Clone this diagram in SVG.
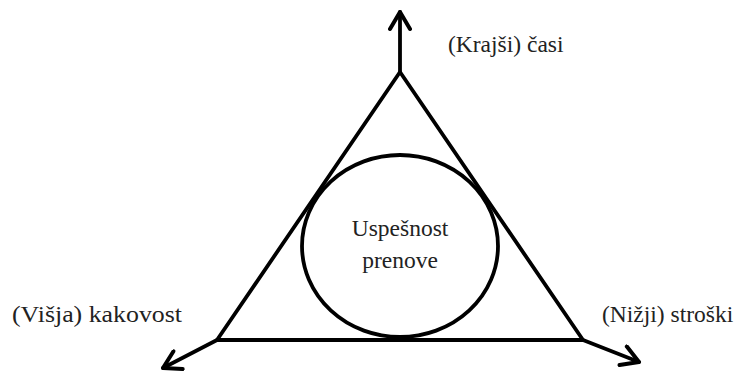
<svg xmlns="http://www.w3.org/2000/svg" width="735" height="372" viewBox="0 0 735 372">
<style>
.ln{fill:none;stroke:#000;stroke-width:3.8;stroke-linecap:round;stroke-linejoin:round}
text{font-family:"Liberation Serif","Times New Roman",serif;font-size:23.5px;fill:#222}
</style>
<defs>
<marker id="ah" viewBox="0 0 24 24" refX="20" refY="12" markerWidth="24" markerHeight="24" markerUnits="userSpaceOnUse" orient="auto">
<path d="M3,2 L20,12 L3,22" fill="none" stroke="#000" stroke-width="4" stroke-linecap="round" stroke-linejoin="round"/>
</marker>
</defs>
<rect width="735" height="372" fill="#fff"/>
<g id="connectors">
<line class="ln" x1="400" y1="72" x2="400" y2="12" marker-end="url(#ah)"/>
<line class="ln" x1="217" y1="340" x2="163" y2="368" marker-end="url(#ah)"/>
<line class="ln" x1="583" y1="340" x2="639" y2="362" marker-end="url(#ah)"/>
</g>
<g id="triangle">
<path class="ln" d="M400,72 L583,340 L217,340 Z"/>
</g>
<g id="center">
<ellipse class="ln" cx="400" cy="246" rx="98" ry="91"/>
<text x="400" y="236" text-anchor="middle">Uspešnost</text>
<text x="400" y="268" text-anchor="middle">prenove</text>
</g>
<g id="top"><text x="448" y="52">(Krajši) časi</text></g>
<g id="left"><text x="12" y="322" textLength="170" lengthAdjust="spacingAndGlyphs">(Višja) kakovost</text></g>
<g id="right"><text x="602" y="322">(Nižji) stroški</text></g>
</svg>
